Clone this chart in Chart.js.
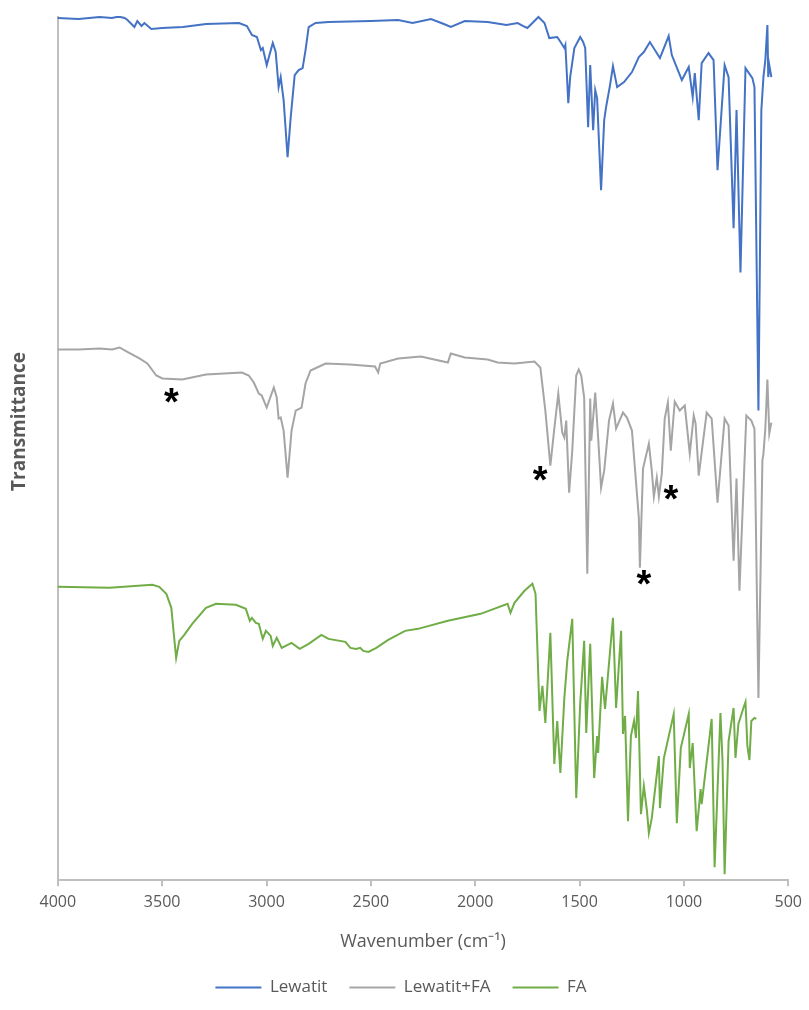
<!DOCTYPE html>
<html>
<head>
<meta charset="utf-8">
<script src="https://cdn.jsdelivr.net/npm/chart.js@4.4.1/dist/chart.umd.min.js"></script>
<style>
  html, body { margin: 0; padding: 0; background: #fff; }
  #wrap { width: 809px; height: 1010px; position: relative; }
</style>
</head>
<body>
<div id="wrap"><canvas id="ftir"></canvas></div>
<script>
// FTIR spectra, stacked with an offset (arbitrary transmittance units)

const wnLewatit = [4000, 3900, 3800, 3740, 3719, 3700, 3680, 3666, 3633, 3619, 3599, 3585, 3552, 3500, 3400, 3290, 3132, 3094, 3070, 3046, 3027, 3018, 2999, 2970, 2956, 2942, 2932, 2918, 2899, 2884, 2865, 2846, 2827, 2813, 2798, 2765, 2703, 2500, 2369, 2300, 2212, 2150, 2117, 2050, 1940, 1850, 1797, 1760, 1750, 1697, 1668, 1645, 1607, 1588, 1573, 1568, 1554, 1545, 1525, 1497, 1483, 1473, 1459, 1449, 1435, 1425, 1416, 1397, 1382, 1373, 1354, 1340, 1320, 1287, 1249, 1216, 1192, 1163, 1115, 1073, 1058, 1010, 977, 958, 948, 929, 915, 882, 858, 839, 805, 786, 762, 748, 729, 705, 672, 662, 643, 629, 619, 610, 600, 596, 591, 581];
const tLewatit = [86.1, 86.0, 86.2, 86.1, 86.2, 86.2, 86.1, 85.9, 85.2, 85.8, 85.3, 85.6, 85.0, 85.1, 85.2, 85.5, 85.6, 85.3, 84.4, 84.2, 82.9, 83.1, 81.4, 83.6, 82.7, 79.2, 80.2, 77.9, 72.2, 76.2, 80.4, 80.9, 81.1, 82.9, 85.2, 85.6, 85.7, 85.8, 85.9, 85.6, 86.0, 85.5, 85.2, 85.8, 85.7, 85.4, 85.6, 85.2, 85.1, 86.2, 85.6, 84.1, 84.2, 83.6, 83.1, 83.4, 77.6, 80.2, 83.1, 84.2, 83.7, 83.1, 75.2, 81.4, 74.9, 78.9, 78.1, 68.9, 75.9, 77.2, 79.4, 81.3, 79.2, 79.7, 80.7, 82.2, 82.7, 83.7, 82.1, 84.3, 82.4, 79.9, 81.2, 78.2, 80.6, 75.9, 81.6, 82.6, 81.9, 70.9, 81.4, 80.2, 65.1, 76.9, 60.7, 81.1, 80.1, 79.2, 46.9, 76.9, 80.2, 81.9, 85.4, 80.2, 81.4, 80.2];

const wnMix = [4000, 3900, 3800, 3740, 3704, 3671, 3609, 3571, 3528, 3499, 3404, 3290, 3118, 3085, 3061, 3037, 3023, 2999, 2965, 2951, 2942, 2932, 2918, 2899, 2880, 2860, 2832, 2813, 2789, 2717, 2600, 2480, 2465, 2455, 2369, 2260, 2131, 2117, 2050, 1940, 1893, 1812, 1716, 1688, 1664, 1640, 1621, 1602, 1583, 1573, 1564, 1550, 1535, 1516, 1504, 1492, 1478, 1463, 1449, 1444, 1425, 1411, 1397, 1382, 1359, 1340, 1325, 1292, 1273, 1249, 1235, 1216, 1211, 1196, 1168, 1154, 1144, 1130, 1120, 1106, 1092, 1077, 1063, 1044, 1020, 996, 972, 953, 944, 929, 891, 867, 839, 805, 786, 762, 748, 734, 701, 677, 662, 643, 624, 619, 610, 600, 591, 581];
const tMix = [53.0, 53.0, 53.1, 53.0, 53.2, 52.8, 52.1, 51.6, 50.4, 50.1, 50.0, 50.5, 50.7, 50.4, 49.7, 48.6, 48.4, 47.2, 49.2, 48.2, 46.1, 46.2, 44.9, 40.2, 44.9, 46.9, 47.2, 49.6, 50.9, 51.6, 51.5, 51.3, 50.7, 51.6, 52.1, 52.3, 51.7, 52.6, 52.2, 52.0, 51.7, 51.6, 51.8, 51.2, 46.9, 41.4, 45.1, 48.6, 44.7, 44.2, 45.9, 38.7, 42.9, 50.4, 51.0, 50.4, 48.2, 30.6, 48.1, 43.9, 48.7, 44.2, 39.2, 40.9, 45.9, 47.6, 45.1, 46.7, 46.2, 44.9, 41.2, 36.2, 31.2, 41.1, 43.6, 40.9, 38.3, 40.2, 38.3, 40.6, 46.1, 47.7, 42.9, 47.8, 46.9, 47.4, 42.6, 46.4, 45.6, 40.4, 46.7, 46.1, 37.7, 46.1, 45.4, 31.9, 40.1, 28.9, 46.4, 45.9, 45.1, 18.2, 41.9, 42.6, 45.1, 50.0, 44.6, 45.7];

const wnFA = [4000, 3752, 3547, 3514, 3480, 3456, 3447, 3433, 3418, 3394, 3356, 3290, 3242, 3147, 3099, 3080, 3070, 3051, 3037, 3018, 3003, 2980, 2970, 2951, 2927, 2880, 2841, 2798, 2737, 2703, 2622, 2598, 2570, 2551, 2536, 2512, 2474, 2417, 2336, 2274, 2131, 1974, 1845, 1831, 1812, 1764, 1726, 1711, 1692, 1678, 1664, 1640, 1621, 1607, 1592, 1573, 1559, 1535, 1516, 1497, 1478, 1468, 1449, 1430, 1416, 1411, 1392, 1378, 1340, 1325, 1301, 1292, 1282, 1268, 1254, 1239, 1230, 1220, 1206, 1192, 1177, 1168, 1154, 1120, 1115, 1096, 1049, 1034, 1015, 977, 972, 958, 939, 920, 915, 867, 853, 825, 815, 805, 786, 762, 753, 739, 715, 705, 696, 686, 677, 662, 653];
const tFA = [29.3, 29.2, 29.5, 29.3, 28.6, 27.2, 25.2, 22.2, 23.9, 24.5, 25.6, 27.2, 27.6, 27.5, 27.1, 25.9, 26.2, 25.7, 25.6, 24.1, 24.9, 24.4, 23.4, 24.2, 23.2, 23.7, 23.1, 23.6, 24.5, 24.1, 23.8, 23.2, 23.1, 23.2, 22.9, 22.8, 23.2, 24.0, 24.9, 25.1, 25.9, 26.6, 27.6, 26.7, 27.7, 28.9, 29.6, 28.6, 16.9, 19.4, 15.7, 24.7, 11.6, 15.9, 10.7, 18.2, 21.9, 26.1, 8.2, 17.6, 23.9, 14.7, 23.6, 10.2, 14.4, 12.7, 20.3, 17.1, 26.2, 17.2, 24.9, 14.6, 16.4, 5.9, 14.4, 15.9, 14.2, 18.9, 6.6, 9.4, 6.9, 4.7, 6.2, 12.4, 7.2, 12.2, 16.6, 5.7, 13.2, 16.6, 11.2, 13.7, 4.9, 9.1, 7.6, 16.1, 1.3, 16.7, 11.9, 0.6, 13.9, 17.2, 12.2, 15.6, 17.2, 17.8, 13.4, 12.0, 15.9, 16.2, 16.1];

// bands of the loaded resin marked with an asterisk
const markWn = [3456, 1689, 1192, 1063];
const markT = [48.4, 40.6, 30.2, 38.7];

const xTicks = [4000, 3500, 3000, 2500, 2000, 1500, 1000, 500];

const toPoints = (xs, ys) => xs.map((x, i) => ({ x: x, y: ys[i] }));

const textGrey = '#595959';
const axisGrey = '#BFBFBF';
Chart.defaults.font.family = "'Open Sans', sans-serif";
Chart.defaults.color = textGrey;

const asterisks = {
  id: 'asterisks',
  afterDatasetsDraw(chart) {
    const ctx = chart.ctx;
    const xs = chart.scales.x, ys = chart.scales.y;
    ctx.save();
    ctx.font = "bold 38px 'Liberation Sans', sans-serif";
    ctx.fillStyle = '#000';
    ctx.textAlign = 'center';
    ctx.textBaseline = 'alphabetic';
    const m = ctx.measureText('*');
    const shift = (m.actualBoundingBoxAscent - m.actualBoundingBoxDescent) / 2;
    markWn.forEach((wn, i) => {
      ctx.fillText('*', xs.getPixelForValue(wn), ys.getPixelForValue(markT[i]) + shift);
    });
    ctx.restore();
  }
};

const line = (label, xs, ys, color) => ({
  label: label,
  data: toPoints(xs, ys),
  borderColor: color,
  backgroundColor: color,
  borderWidth: 2
});

new Chart(document.getElementById('ftir'), {
  type: 'line',
  data: {
    datasets: [
      line('Lewatit', wnLewatit, tLewatit, '#4472C4'),
      line('Lewatit+FA', wnMix, tMix, '#A5A5A5'),
      line('FA', wnFA, tFA, '#70AD47')
    ]
  },
  options: {
    responsive: true,
    maintainAspectRatio: false,
    animation: false,
    layout: { padding: { top: 17, right: 11, left: 4, bottom: 4 } },
    elements: {
      line: { tension: 0 },
      point: { radius: 0, hoverRadius: 0 }
    },
    datasets: { line: { clip: false } },
    scales: {
      x: {
        type: 'linear',
        reverse: true,
        min: 500,
        max: 4000,
        afterBuildTicks: axis => { axis.ticks = xTicks.map(v => ({ value: v })); },
        ticks: {
          callback: v => String(v),
          maxRotation: 0,
          padding: 7,
          font: { size: 16 }
        },
        grid: { drawOnChartArea: false, drawTicks: true, tickLength: 6, color: axisGrey, lineWidth: 2 },
        border: { color: axisGrey, width: 2 },
        title: {
          display: true,
          text: 'Wavenumber (cm⁻¹)',
          font: { size: 18 },
          padding: { top: 12, bottom: 4 }
        }
      },
      y: {
        min: 0,
        max: 86.2,
        ticks: { display: false },
        grid: { display: false },
        border: { display: true, color: axisGrey, width: 2 },
        title: {
          display: true,
          text: '           Transmittance',
          font: { size: 19, weight: 'bold' },
          padding: { top: 4, bottom: 19 }
        }
      }
    },
    plugins: {
      legend: {
        position: 'bottom',
        labels: {
          usePointStyle: true,
          pointStyle: 'line',
          pointStyleWidth: 46,
          padding: 22,
          font: { size: 17 }
        }
      },
      tooltip: { enabled: false }
    }
  },
  plugins: [asterisks]
});
</script>
</body>
</html>
